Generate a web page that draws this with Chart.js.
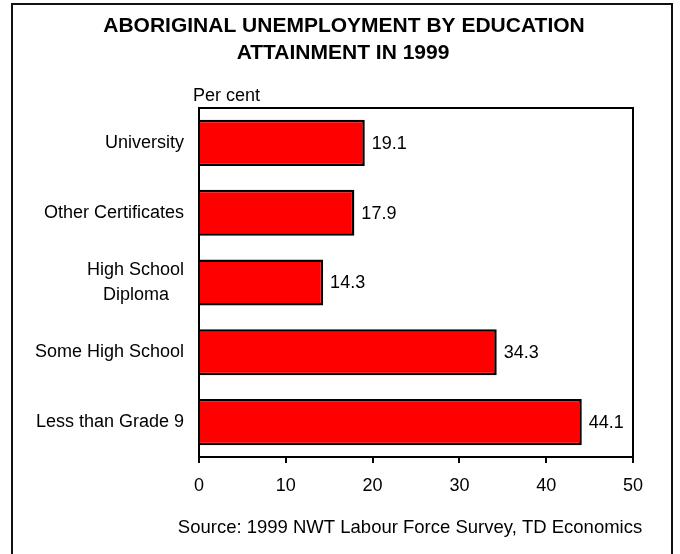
<!DOCTYPE html>
<html>
<head>
<meta charset="utf-8">
<title>Aboriginal Unemployment by Education Attainment in 1999</title>
<script src="https://cdn.jsdelivr.net/npm/chart.js@4/dist/chart.umd.min.js"></script>
<style>
  html, body { margin: 0; padding: 0; background: #fff; }
  canvas { display: block; }
</style>
</head>
<body>
<canvas id="unemploymentChart" width="680" height="554"></canvas>
<script>
// Unemployment rate (per cent) by education attainment
const categories = ['University', 'Other Certificates', ['High School', 'Diploma\u00a0\u00a0\u00a0'], 'Some High School', 'Less than Grade 9'];
const rates = [19.1, 17.9, 14.3, 34.3, 44.1];
const xTicks = [0, 10, 20, 30, 40, 50];

const FONT = '"Liberation Sans", Arial, sans-serif';
Chart.defaults.font.family = FONT;
Chart.defaults.font.size = 18;
Chart.defaults.color = '#000';

// white page, outer frame, plot box, headings and value labels
const decorations = {
    id: 'decorations',
    beforeDraw(chart) {
        const c = chart.ctx;
        c.save();
        c.fillStyle = '#fff';
        c.fillRect(0, 0, chart.width, chart.height);
        c.strokeStyle = '#111';
        c.lineWidth = 2;
        c.strokeRect(12, 4, 660, 560);
        c.restore();
    },
    afterDraw(chart) {
        const c = chart.ctx;
        const a = chart.chartArea;
        c.save();
        c.strokeStyle = '#000';
        c.lineWidth = 2;
        c.strokeRect(a.left, a.top, a.right - a.left, a.bottom - a.top);

        c.fillStyle = '#000';
        c.textAlign = 'center';
        c.textBaseline = 'alphabetic';
        c.font = 'bold 21px ' + FONT;
        c.fillText('ABORIGINAL UNEMPLOYMENT BY EDUCATION', 344, 32);
        c.fillText('ATTAINMENT IN 1999', 343, 59);

        c.font = '18px ' + FONT;
        c.textAlign = 'left';
        c.fillText('Per cent', 193, 101);
        c.font = '18.5px ' + FONT;
        c.textAlign = 'center';
        c.fillText('Source: 1999 NWT Labour Force Survey, TD Economics', 410, 533);

        // value labels just past each bar end
        c.font = '18px ' + FONT;
        c.textAlign = 'left';
        c.textBaseline = 'middle';
        chart.getDatasetMeta(0).data.forEach((bar, i) => {
            c.fillText(rates[i].toFixed(1), bar.x + 7, bar.y + 1);
        });
        c.restore();
    }
};

new Chart(document.getElementById('unemploymentChart'), {
    type: 'bar',
    data: {
        labels: categories,
        datasets: [{
            data: rates,
            backgroundColor: '#ff0000',
            borderColor: '#000',
            borderWidth: 2.5,
            barPercentage: 0.66,
            categoryPercentage: 1.0
        }]
    },
    options: {
        indexAxis: 'y',
        responsive: false,
        animation: false,
        layout: { padding: { top: 108, right: 47, left: 0, bottom: 0 } },
        plugins: {
            legend: { display: false },
            title: { display: false },
            tooltip: { enabled: false }
        },
        scales: {
            x: {
                min: 0,
                max: 50,
                afterFit(scale) { scale.height = 97; },
                afterBuildTicks(scale) { scale.ticks = xTicks.map(v => ({ value: v })); },
                grid: {
                    drawOnChartArea: false,
                    drawTicks: true,
                    tickLength: 6,
                    color: '#000',
                    lineWidth: 2
                },
                border: { display: true, color: '#000', width: 2 },
                ticks: { padding: 12, color: '#000', maxRotation: 0 }
            },
            y: {
                afterFit(scale) { scale.width = 199; },
                grid: { display: false, drawTicks: false },
                border: { display: true, color: '#000', width: 2 },
                ticks: {
                    padding: 15,
                    color: '#000',
                    font: { size: 18, lineHeight: 1.35 }
                }
            }
        }
    },
    plugins: [decorations]
});
</script>
</body>
</html>
